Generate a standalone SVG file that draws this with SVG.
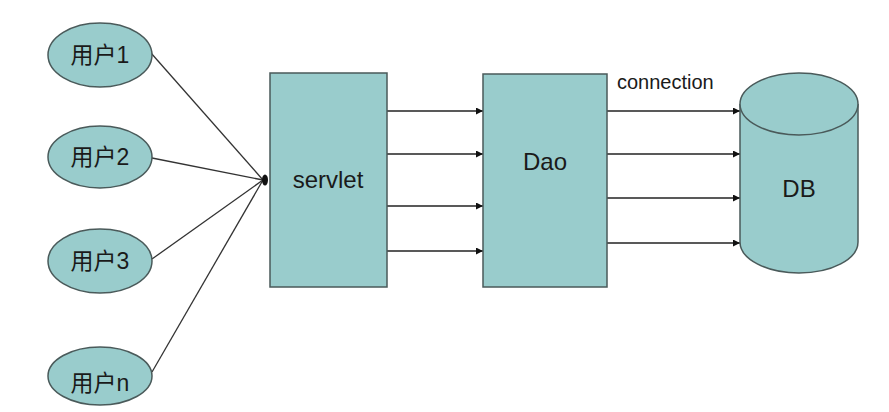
<svg xmlns="http://www.w3.org/2000/svg" width="889" height="412" viewBox="0 0 889 412">
<defs>
<style>
.node{fill:#99cccc;stroke:#4a5a5a;stroke-width:1.5}
.lbl{font-family:"Liberation Sans","Noto Sans CJK SC",sans-serif;font-size:24px;fill:#1a1a1a;text-anchor:middle}
.ulbl{font-family:"Liberation Sans","Noto Sans CJK SC",sans-serif;font-size:23px;fill:#1a1a1a;text-anchor:middle}
.ln{stroke:#333;stroke-width:1.3;fill:none}
.arr{stroke:#222;stroke-width:1.3;fill:none;marker-end:url(#ah)}
</style>
<marker id="ah" viewBox="0 0 10 10" refX="10" refY="5" markerWidth="7" markerHeight="7" markerUnits="userSpaceOnUse" orient="auto">
<path d="M0,0 L10,5 L0,10 z" fill="#111"/>
</marker>
</defs>
<rect width="889" height="412" fill="#ffffff"/>
<g id="connectors">
<line class="ln" x1="151" y1="53" x2="263" y2="180"/>
<line class="ln" x1="152" y1="158" x2="263" y2="180"/>
<line class="ln" x1="152" y1="259" x2="263" y2="180"/>
<line class="ln" x1="152" y1="372" x2="263" y2="180"/>
<ellipse cx="265" cy="180" rx="3" ry="5.5" fill="#111"/>
<line class="arr" x1="387" y1="111" x2="483" y2="111"/>
<line class="arr" x1="387" y1="154" x2="483" y2="154"/>
<line class="arr" x1="387" y1="206" x2="483" y2="206"/>
<line class="arr" x1="387" y1="251" x2="483" y2="251"/>
<line class="arr" x1="607" y1="111" x2="740" y2="111"/>
<line class="arr" x1="607" y1="154" x2="740" y2="154"/>
<line class="arr" x1="607" y1="198" x2="740" y2="198"/>
<line class="arr" x1="607" y1="243" x2="740" y2="243"/>
<text x="617" y="89" font-family="Liberation Sans, sans-serif" font-size="20" fill="#1a1a1a">connection</text>
</g>
<g id="user1">
<ellipse class="node" cx="100" cy="55" rx="52" ry="32"/>
<text class="ulbl" x="100" y="63">用户1</text>
</g>
<g id="user2">
<ellipse class="node" cx="100" cy="157" rx="52" ry="31"/>
<text class="ulbl" x="100" y="165">用户2</text>
</g>
<g id="user3">
<ellipse class="node" cx="100" cy="261" rx="52" ry="32"/>
<text class="ulbl" x="100" y="269">用户3</text>
</g>
<g id="usern">
<ellipse class="node" cx="100" cy="376" rx="52" ry="29"/>
<text class="ulbl" x="100" y="391">用户n</text>
</g>
<g id="servlet">
<rect class="node" x="270" y="73" width="117" height="214"/>
<text class="lbl" x="328" y="188">servlet</text>
</g>
<g id="dao">
<rect class="node" x="483" y="74" width="124" height="213"/>
<text class="lbl" x="545" y="170">Dao</text>
</g>
<g id="db">
<path class="node" d="M740,104 L740,242 A59,31 0 0 0 858,242 L858,104 A59,31 0 0 0 740,104 Z"/>
<path class="node" d="M740,104 A59,31 0 0 0 858,104" fill="none"/>
<text class="lbl" x="799" y="197">DB</text>
</g>
</svg>
